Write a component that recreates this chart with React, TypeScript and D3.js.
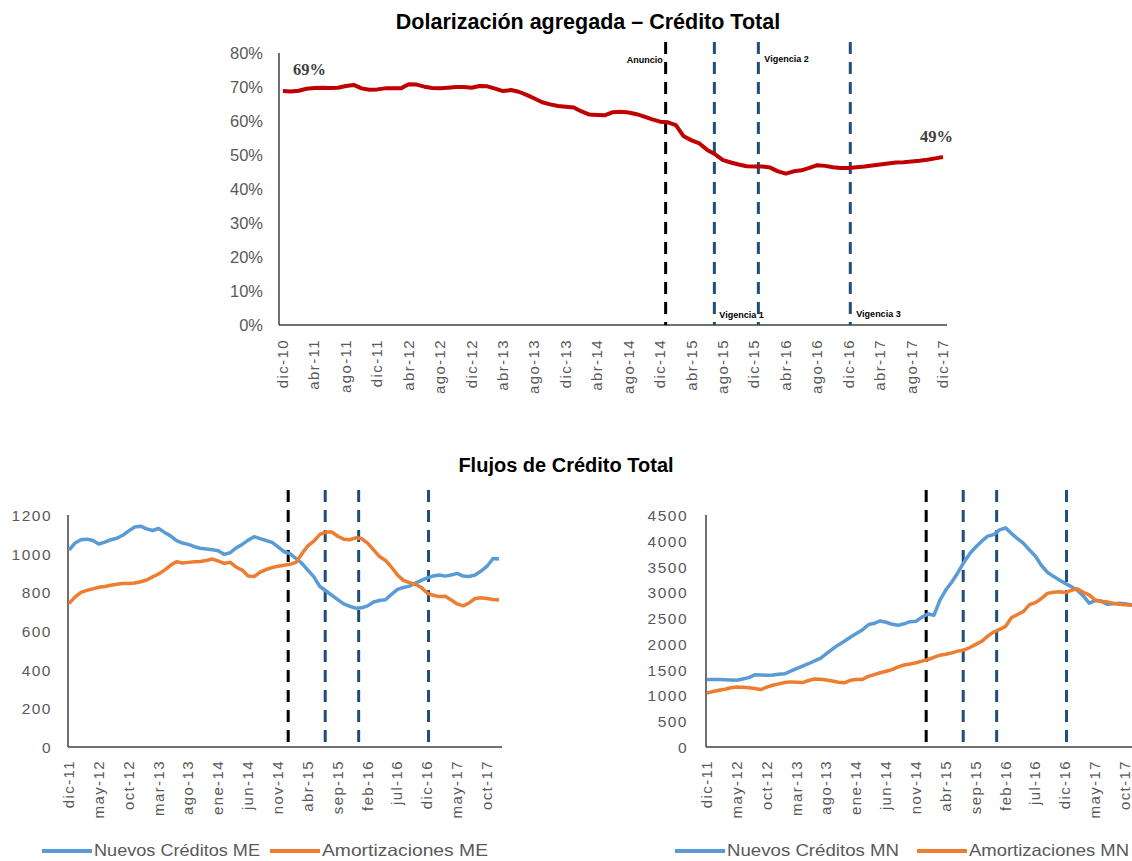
import React from 'react'
import * as d3 from 'd3'

const monthNames = ['ene', 'feb', 'mar', 'abr', 'may', 'jun', 'jul', 'ago', 'sep', 'oct', 'nov', 'dic'];

// monthly dolarization ratio, dic-10 .. dic-17 (%)
const dolarizacion = [
  68.8, 68.7, 68.9, 69.5, 69.7, 69.8, 69.7, 69.8, 70.3, 70.6, 69.6, 69.2,
  69.3, 69.6, 69.6, 69.6, 70.8, 70.7, 70.1, 69.7, 69.6, 69.8, 70.0, 70.0,
  69.8, 70.3, 70.2, 69.5, 68.8, 69.1, 68.6, 67.7, 66.6, 65.5, 64.9, 64.4,
  64.2, 64.0, 62.8, 61.9, 61.8, 61.7, 62.6, 62.7, 62.5, 62.0, 61.3, 60.5,
  59.8, 59.6, 58.8, 55.5, 54.3, 53.4, 51.5, 50.2, 48.5, 47.8, 47.2, 46.7,
  46.6, 46.6, 46.3, 45.2, 44.5, 45.2, 45.5, 46.2, 47.0, 46.8, 46.4, 46.2,
  46.2, 46.4, 46.6, 46.9, 47.2, 47.5, 47.8, 47.9, 48.1, 48.3, 48.6, 49.0,
  49.4,
];

// flows dic-11 .. dic-17
const nuevosME = [
  1019, 1055, 1072, 1075, 1068, 1050, 1060, 1072, 1080, 1095, 1118, 1138,
  1142, 1128, 1120, 1130, 1110, 1092, 1068, 1055, 1048, 1036, 1028, 1024,
  1020, 1015, 996, 1005, 1030, 1048, 1070, 1088, 1078, 1068, 1058, 1035,
  1010, 1000, 975, 950, 915, 880, 830, 808, 785, 762, 740, 728,
  718, 720, 730, 750, 758, 762, 790, 815, 825, 832, 848, 862,
  875, 885, 890, 884, 890, 898, 884, 882, 890, 910, 935, 975,
  972,
];
const amortME = [
  742, 775, 800, 810, 818, 826, 830, 837, 842, 846, 846, 848,
  855, 864, 880, 895, 915, 940, 958, 952, 955, 958, 960, 965,
  972, 962, 950, 955, 930, 915, 885, 882, 905, 918, 928, 935,
  940, 945, 955, 1000, 1040, 1065, 1100, 1112, 1112, 1090, 1075, 1072,
  1082, 1078, 1055, 1020, 985, 965, 930, 890, 862, 850, 842, 825,
  795, 785, 778, 780, 760, 740, 730, 745, 768, 772, 768, 763,
  760,
];
const nuevosMN = [
  1308, 1308, 1308, 1305, 1300, 1295, 1320, 1345, 1400, 1398, 1390, 1395,
  1410, 1420, 1470, 1520, 1570, 1615, 1670, 1720, 1810, 1900, 1980, 2050,
  2130, 2200, 2270, 2370, 2400, 2445, 2420, 2380, 2360, 2390, 2430, 2440,
  2520, 2580, 2555, 2850, 3050, 3200, 3380, 3580, 3750, 3880, 3990, 4090,
  4120, 4210, 4250, 4140, 4040, 3950, 3820, 3700, 3520, 3390, 3310, 3240,
  3170, 3110, 3040, 2930, 2790, 2840, 2830, 2770, 2780, 2790, 2780, 2760,
  2750,
];
const amortMN = [
  1049, 1075, 1100, 1120, 1150, 1165, 1158, 1150, 1135, 1114, 1160, 1198,
  1225, 1250, 1263, 1258, 1250, 1290, 1320, 1315, 1300, 1280, 1255, 1245,
  1295, 1308, 1310, 1370, 1405, 1440, 1470, 1500, 1555, 1590, 1610, 1635,
  1665, 1697, 1740, 1781, 1800, 1826, 1860, 1880, 1930, 1990, 2050, 2150,
  2230, 2280, 2340, 2510, 2570, 2630, 2760, 2800, 2880, 2980, 3000, 3010,
  2995, 3040, 3070, 3000, 2950, 2850, 2820, 2815, 2790, 2770, 2760, 2750,
  2740,
];

const topTicks = [0, 10, 20, 30, 40, 50, 60, 70, 80];
const meTicks = [0, 200, 400, 600, 800, 1000, 1200];
const mnTicks = [0, 500, 1000, 1500, 2000, 2500, 3000, 3500, 4000, 4500];

// event lines, months after dic-10
const events = [
  { name: 'Anuncio', at: 48.7, color: '#000000' },
  { name: 'Vigencia 1', at: 54.9, color: '#1f4e79' },
  { name: 'Vigencia 2', at: 60.5, color: '#1f4e79' },
  { name: 'Vigencia 3', at: 72.2, color: '#1f4e79' },
];

const monthLabel = (offsetFromDic10: number) => {
  const m = (11 + offsetFromDic10) % 12;
  const y = 10 + Math.floor((11 + offsetFromDic10) / 12);
  return `${monthNames[m]}-${y}`;
};

const BLUE = '#5b9bd5';
const ORANGE = '#ed7d31';
const GRAY = '#595959';
const FONT = 'Liberation Sans, Arial, sans-serif';

const EventLine = ({ x, y1, y2, color }) => (
  <line x1={x} x2={x} y1={y1} y2={y2} stroke={color} strokeWidth={3} strokeDasharray='12 8' />
);

const TopChart = () => {
  const x = d3.scaleLinear().domain([0, 84]).range([283, 943]);
  const y = d3.scaleLinear().domain([0, 80]).range([325, 53]);
  const line = d3.line<number>().x((d, i) => x(i)).y(d => y(d));
  const labelIdx = d3.range(0, 85, 4);
  return (
    <g>
      <text x={588} y={29} textAnchor='middle' fontFamily={FONT} fontWeight='bold' fontSize={21.5}>
        Dolarización agregada – Crédito Total
      </text>
      {topTicks.map(t => (
        <text key={t} x={263} y={y(t) + 6} textAnchor='end' fontFamily={FONT} fontSize={16.5} fill={GRAY}>
          {t}%
        </text>
      ))}
      <line x1={279} x2={279} y1={53} y2={325} stroke='#404040' strokeWidth={1.5} />
      <line x1={279} x2={947} y1={325} y2={325} stroke='#404040' strokeWidth={1.5} />
      {labelIdx.map(i => (
        <text
          key={i}
          transform={`translate(${x(i) + 5},339) rotate(-90)`}
          textAnchor='end'
          fontFamily={FONT}
          fontSize={15}
          letterSpacing={1.4}
          fill={GRAY}
        >
          {monthLabel(i)}
        </text>
      ))}
      {events.map(e => (
        <EventLine key={e.name} x={x(e.at)} y1={42} y2={325} color={e.color} />
      ))}
      <path d={line(dolarizacion)} fill='none' stroke='#c00000' strokeWidth={4} strokeLinejoin='round' />
      <text x={293} y={75} fontFamily='Liberation Serif, Times New Roman, serif' fontWeight='bold' fontSize={16.5} fill='#404040'>69%</text>
      <text x={920} y={142} fontFamily='Liberation Serif, Times New Roman, serif' fontWeight='bold' fontSize={16.5} fill='#404040'>49%</text>
      <text x={x(events[0].at) - 3} y={63} textAnchor='end' fontFamily={FONT} fontWeight='bold' fontSize={9}>Anuncio</text>
      <text x={x(events[2].at) + 6} y={62} fontFamily={FONT} fontWeight='bold' fontSize={9}>Vigencia 2</text>
      <text x={x(events[1].at) + 5} y={318} fontFamily={FONT} fontWeight='bold' fontSize={9}>Vigencia 1</text>
      <text x={x(events[3].at) + 6} y={317} fontFamily={FONT} fontWeight='bold' fontSize={9}>Vigencia 3</text>
    </g>
  );
};

const FlowChart = ({ left, labelRight, max, ticks, seriesA, seriesB, legend }) => {
  const x = d3.scaleLinear().domain([0, 72]).range([left + 1, left + 431]);
  const y = d3.scaleLinear().domain([0, max]).range([747, 515]);
  const line = d3.line<number>().x((d, i) => x(i)).y(d => y(d));
  const labelIdx = d3.range(0, 73, 5);
  return (
    <g>
      {ticks.map(t => (
        <text key={t} x={labelRight} y={y(t) + 6} textAnchor='end' fontFamily={FONT} fontSize={15.5} letterSpacing={1.5} fill={GRAY}>
          {t}
        </text>
      ))}
      <line x1={left} x2={left} y1={515} y2={747} stroke='#404040' strokeWidth={1.5} />
      <line x1={left} x2={left + 434} y1={747} y2={747} stroke='#404040' strokeWidth={1.5} />
      {labelIdx.map(i => (
        <text
          key={i}
          transform={`translate(${x(i) + 5},760) rotate(-90)`}
          textAnchor='end'
          fontFamily={FONT}
          fontSize={15}
          letterSpacing={1.4}
          fill={GRAY}
        >
          {monthLabel(i + 12)}
        </text>
      ))}
      {events.map(e => (
        <EventLine key={e.name} x={x(e.at - 12)} y1={490} y2={747} color={e.color} />
      ))}
      <path d={line(seriesA)} fill='none' stroke={BLUE} strokeWidth={3.5} strokeLinejoin='round' />
      <path d={line(seriesB)} fill='none' stroke={ORANGE} strokeWidth={3.5} strokeLinejoin='round' />
      {legend.map(l => (
        <g key={l.label}>
          <line x1={l.x} x2={l.x + 50} y1={851} y2={851} stroke={l.color} strokeWidth={4} />
          <text x={l.x + 52} y={856} fontFamily={FONT} fontSize={16.5} fill={GRAY} textLength={l.w} lengthAdjust='spacingAndGlyphs'>
            {l.label}
          </text>
        </g>
      ))}
    </g>
  );
};

const legendME = [
  { label: 'Nuevos Créditos ME', color: BLUE, x: 42, w: 166 },
  { label: 'Amortizaciones ME', color: ORANGE, x: 270, w: 166 },
];
const legendMN = [
  { label: 'Nuevos Créditos MN', color: BLUE, x: 675, w: 172 },
  { label: 'Amortizaciones MN', color: ORANGE, x: 917, w: 160 },
];

const App = () => (
  <svg width={1132} height={861} style={{ position: 'absolute', left: 0, top: 0, background: '#fff' }}>
    <rect width={1132} height={861} fill='#fff' />
    <TopChart />
    <text x={566} y={472} textAnchor='middle' fontFamily={FONT} fontWeight='bold' fontSize={20}>
      Flujos de Crédito Total
    </text>
    <FlowChart
      left={68}
      labelRight={52}
      max={1200}
      ticks={meTicks}
      seriesA={nuevosME}
      seriesB={amortME}
      legend={legendME}
    />
    <FlowChart
      left={706}
      labelRight={688}
      max={4500}
      ticks={mnTicks}
      seriesA={nuevosMN}
      seriesB={amortMN}
      legend={legendMN}
    />
  </svg>
);

export default App
